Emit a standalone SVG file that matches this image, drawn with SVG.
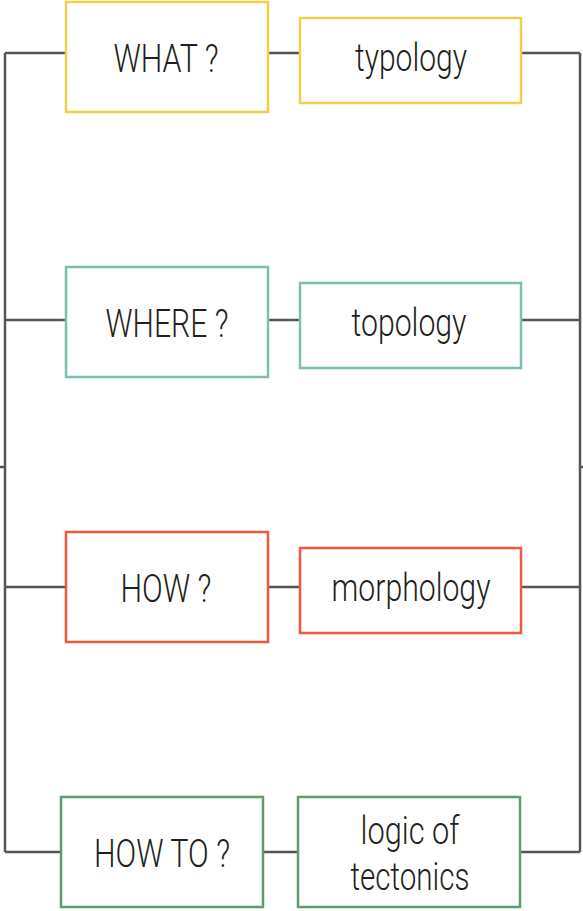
<svg xmlns="http://www.w3.org/2000/svg" width="583" height="911" viewBox="0 0 583 911">
<style>
.box{fill:#fff;stroke-width:2.5}
.y{stroke:#F2CF4A}.t{stroke:#7CBFB2}.r{stroke:#EF5A3C}.g{stroke:#5C9E6C}
.lbl{font-family:"Roboto","Liberation Sans",sans-serif;font-size:38px;font-weight:300;fill:#231F20;text-anchor:middle}
.c{fill:none;stroke:#555;stroke-width:2.5}
</style>
<rect width="583" height="911" fill="#fff"/>
<g id="connectors">
<path class="c" d="M5 53V852M580 53V852M0 467H5M580 467H583"/>
<path class="c" d="M5 53H66M268 53H299M521 53H580"/>
<path class="c" d="M5 320H66M268 320H299M521 320H580"/>
<path class="c" d="M5 587H66M268 587H299M521 587H580"/>
<path class="c" d="M5 852H61M263 852H298M520 852H580"/>
</g>
<g id="what"><rect class="box y" x="66" y="2" width="202" height="110"/><text class="lbl" x="166" y="72" textLength="105" lengthAdjust="spacingAndGlyphs">WHAT ?</text></g>
<g id="typology"><rect class="box y" x="300" y="18" width="221" height="85"/><text class="lbl" x="411" y="71" textLength="112" lengthAdjust="spacingAndGlyphs">typology</text></g>
<g id="where"><rect class="box t" x="66" y="267" width="202" height="110"/><text class="lbl" x="167" y="337" textLength="123" lengthAdjust="spacingAndGlyphs">WHERE ?</text></g>
<g id="topology"><rect class="box t" x="300" y="283" width="221" height="85"/><text class="lbl" x="409" y="336" textLength="115" lengthAdjust="spacingAndGlyphs">topology</text></g>
<g id="how"><rect class="box r" x="66" y="532" width="202" height="110"/><text class="lbl" x="166" y="602" textLength="91" lengthAdjust="spacingAndGlyphs">HOW ?</text></g>
<g id="morphology"><rect class="box r" x="300" y="548" width="221" height="85"/><text class="lbl" x="411" y="601" textLength="159" lengthAdjust="spacingAndGlyphs">morphology</text></g>
<g id="howto"><rect class="box g" x="61" y="797" width="202" height="110"/><text class="lbl" x="162" y="867" textLength="136" lengthAdjust="spacingAndGlyphs">HOW TO ?</text></g>
<g id="tectonics"><rect class="box g" x="298" y="797" width="222" height="110"/><text class="lbl" x="410" y="844" textLength="99" lengthAdjust="spacingAndGlyphs">logic of</text><text class="lbl" x="410" y="890" textLength="119" lengthAdjust="spacingAndGlyphs">tectonics</text></g>
</svg>
